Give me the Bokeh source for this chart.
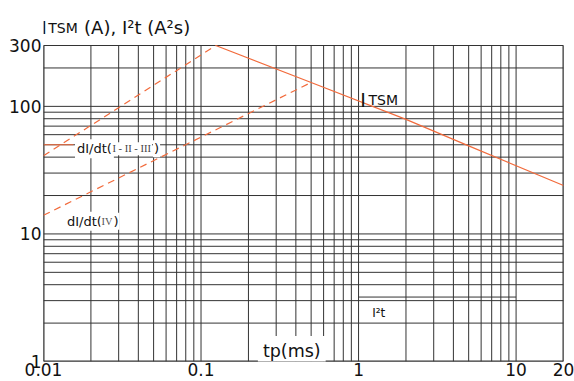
import math
from bokeh.plotting import figure
from bokeh.models import FixedTicker, Label
from bokeh.embed import file_html
from bokeh.resources import INLINE

# ---- data ----
itsm_t = [0.124, 0.5, 2, 5, 20]
itsm_a = [300, 154, 79, 49, 24]

didt_123_t = [0.01, 0.124]
didt_123_a = [41, 300]

didt_4_t = [0.01, 0.5]
didt_4_a = [14, 154]

i2t_t = [1, 10]
i2t_v = [3.2, 3.2]

lead_123_t = [0.01, 0.0155]
lead_123_a = [50, 50]

x_grid = [0.01, 0.02, 0.03, 0.04, 0.05, 0.06, 0.07, 0.08, 0.09,
          0.1, 0.2, 0.3, 0.4, 0.5, 0.6, 0.7, 0.8, 0.9,
          1, 2, 3, 4, 5, 6, 7, 8, 9, 10, 20]
y_grid = [1, 2, 3, 4, 5, 6, 7, 8, 9,
          10, 20, 30, 40, 50, 60, 70, 80, 90,
          100, 200, 300]

x_ticks = [0.01, 0.1, 1, 10, 20]
x_tick_labels = ["0.01", "0.1", "1", "10", "20"]
y_ticks = [1, 10, 100, 300]
y_tick_labels = ["1", "10", "100", "300"]

ORANGE = "#F26B3C"
GRID = "#333333"
FONT = "DejaVu Sans"

# layout: chart box 316 px tall (1..300), with 45 px of room above it for the title
BOX_H = 316
TOP_ROOM = 45
px_per_dec = BOX_H / math.log10(y_grid[-1] / y_grid[0])
y_top = y_grid[-1] * 10 ** (TOP_ROOM / px_per_dec)

p = figure(width=574, height=381, x_axis_type="log", y_axis_type="log",
           x_range=(x_grid[0], x_grid[-1]), y_range=(y_grid[0], y_top),
           output_backend="svg", toolbar_location=None, title_location=None,
           min_border_left=43, min_border_right=11,
           min_border_top=0, min_border_bottom=20)
p.background_fill_color = "white"
p.border_fill_color = "white"
p.outline_line_color = None
p.xgrid.visible = False
p.ygrid.visible = False

# axes
p.xaxis.ticker = FixedTicker(ticks=x_ticks)
p.yaxis.ticker = FixedTicker(ticks=y_ticks)
p.xaxis.major_label_overrides = dict(zip(x_ticks, x_tick_labels))
p.yaxis.major_label_overrides = dict(zip(y_ticks, y_tick_labels))
for ax in (p.xaxis, p.yaxis):
    ax.axis_line_color = None
    ax.major_tick_line_color = None
    ax.minor_tick_line_color = None
    ax.major_tick_in = 0
    ax.major_tick_out = 0
    ax.minor_tick_in = 0
    ax.minor_tick_out = 0
    ax.major_label_text_font = FONT
    ax.major_label_text_font_size = "17px"
    ax.major_label_text_color = "#111111"
p.xaxis.major_label_standoff = 1
p.yaxis.major_label_standoff = 2

# grid lines limited to the chart box
nx, ny = len(x_grid), len(y_grid)
p.segment(x0=x_grid, y0=[y_grid[0]] * nx, x1=x_grid, y1=[y_grid[-1]] * nx,
          line_color=GRID, line_width=1)
p.segment(x0=[x_grid[0]] * ny, y0=y_grid, x1=[x_grid[-1]] * ny, y1=y_grid,
          line_color=GRID, line_width=1)
# box edges that sit on the frame edge (half would be clipped)
p.segment(x0=[x_grid[0], x_grid[-1]], y0=[y_grid[0]] * 2,
          x1=[x_grid[0], x_grid[-1]], y1=[y_grid[-1]] * 2,
          line_color=GRID, line_width=2)
p.segment(x0=[x_grid[0]], y0=[y_grid[0]], x1=[x_grid[-1]], y1=[y_grid[0]],
          line_color=GRID, line_width=2)

# curves
p.line(itsm_t, itsm_a, line_color=ORANGE, line_width=1.2)
p.line(didt_123_t, didt_123_a, line_color=ORANGE, line_width=1.2, line_dash="7 5")
p.line(didt_4_t, didt_4_a, line_color=ORANGE, line_width=1.2, line_dash="7 5")
p.line(i2t_t, i2t_v, line_color="#333333", line_width=1)
p.line(lead_123_t, lead_123_a, line_color=ORANGE, line_width=1.2)


def lab(x, y, text, dx, dy, size, font=FONT, color="#111111", bg=None, pad=0):
    kw = {}
    if bg is not None:
        kw = dict(background_fill_color=bg, padding=pad)
    p.add_layout(Label(x=x, y=y, text=text, x_offset=dx, y_offset=dy,
                       text_font=font, text_font_size=size, text_color=color,
                       text_baseline="alphabetic", text_align="left", **kw))


# title
lab(0.01, 300, "I", -2.1, 17.7, "18px")
lab(0.01, 300, "TSM", 4.7, 17.7, "14px")
lab(0.01, 300, "(A), I\u00b2t (A\u00b2s)", 40.6, 17.7, "18px")

# dI/dt (I-II-III) label
lab(0.01, 50, "dI/dt(", 31.5, -4.1, "13px", bg="white", pad=2)
lab(0.01, 50, "I - II - III", 68, -4.1, "10.5px", font="Liberation Serif",
    color="#444444", bg="white", pad=1)
lab(0.01, 50, ")", 109.5, -4.1, "13px", bg="white", pad=1)

# dI/dt (IV) label
lab(0.01, 10, "dI/dt(", 21.5, 12.7, "13px", bg="white", pad=2)
lab(0.01, 10, "IV", 57, 12.7, "10.5px", font="Liberation Serif",
    color="#555555", bg="white", pad=1)
lab(0.01, 10, ")", 69, 12.7, "13px", bg="white", pad=1)

# ITSM label
lab(1, 100, "I", 1.8, 6.8, "19px")
lab(1, 100, "TSM", 10, 6.8, "14px")

# I2t label
lab(1, 3, "I\u00b2t", 13.6, -12.6, "12px")

# tp(ms) label
lab(0.3, 1, "tp(ms)", -18.3, 10.5, "17.5px", bg="white", pad=5)

open("out.html", "w").write(file_html(p, INLINE))
